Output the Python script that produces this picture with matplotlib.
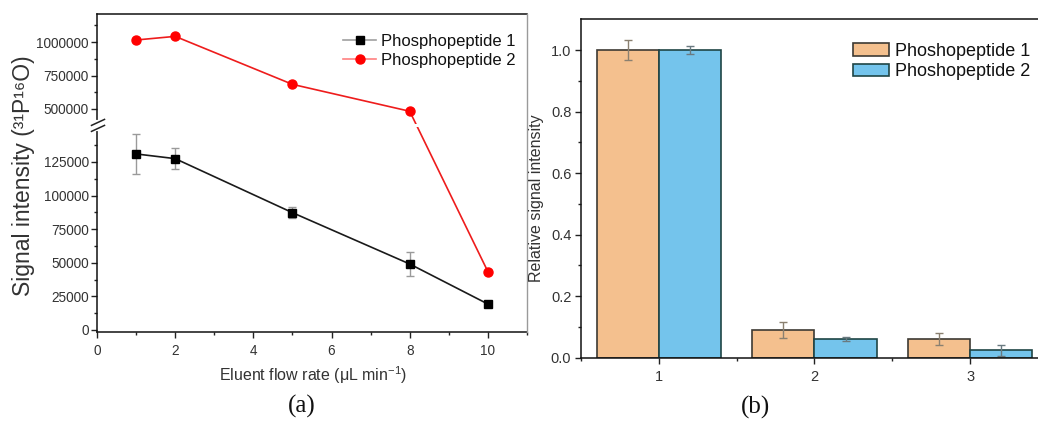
import numpy as np
import matplotlib
matplotlib.use('Agg')
import matplotlib.pyplot as plt
from matplotlib.lines import Line2D
from matplotlib.patches import Patch
from matplotlib.ticker import FixedLocator, FuncFormatter

plt.rcParams['font.family'] = ['Liberation Sans', 'DejaVu Sans']
plt.rcParams['mathtext.fontset'] = 'custom'
plt.rcParams['mathtext.rm'] = 'Liberation Sans'
plt.rcParams['mathtext.it'] = 'Liberation Sans:italic'
plt.rcParams['mathtext.bf'] = 'Liberation Sans:bold'
plt.rcParams['mathtext.default'] = 'regular'

# ---------------- data: panel (a) ----------------
flow_rate = [1, 2, 5, 8, 10]
pep1_signal = [131000, 127500, 87300, 49100, 19300]
pep1_err = [15000, 7800, 4200, 9100, 1200]
pep2_signal = [1015000, 1042000, 684000, 483000, 43400]
yticks_a = [0, 25000, 50000, 75000, 100000, 125000, 500000, 750000, 1000000]
yminor_a = [12500, 37500, 62500, 87500, 112500, 137500, 625000, 875000, 1125000]
xticks_a = [0, 2, 4, 6, 8, 10]
legend_a = ['Phosphopeptide 1', 'Phosphopeptide 2']

# ---------------- data: panel (b) ----------------
groups = ['1', '2', '3']
rel1 = [1.0, 0.089, 0.060]
rel1_err = [0.032, 0.026, 0.019]
rel2 = [1.0, 0.060, 0.024]
rel2_err = [0.013, 0.007, 0.017]
legend_b = ['Phoshopeptide 1', 'Phoshopeptide 2']

W, H = 1038, 423
fig = plt.figure(figsize=(W / 100, H / 100), dpi=100)

TXT = '#333333'

# ---------- broken-axis scale for panel (a) ----------
LOW_TOP = 150000.0
UP_BOT = 400000.0
A = 33.6 / 25000.0
B = 33.5 / 250000.0
GAP = 6.0


def fwd(y):
    y = np.asarray(y, float)
    t1 = LOW_TOP * A
    low = y * A
    mid = t1 + (y - LOW_TOP) * GAP / (UP_BOT - LOW_TOP)
    up = t1 + GAP + (y - UP_BOT) * B
    return np.where(y <= LOW_TOP, low, np.where(y < UP_BOT, mid, up))


def inv(t):
    t = np.asarray(t, float)
    t1 = LOW_TOP * A
    t2 = t1 + GAP
    low = t / A
    mid = LOW_TOP + (t - t1) * (UP_BOT - LOW_TOP) / GAP
    up = UP_BOT + (t - t2) / B
    return np.where(t <= t1, low, np.where(t < t2, mid, up))


def px_rect(x0, y0, x1, y1):
    return [x0 / W, 1 - y1 / H, (x1 - x0) / W, (y1 - y0) / H]


ax = fig.add_axes(px_rect(97, 14, 527, 332))
ax.set_yscale('function', functions=(fwd, inv))
ax.set_xlim(0, 11)
ax.set_ylim(-1500, 1209000)

ax.errorbar(flow_rate, pep1_signal, yerr=pep1_err, color='#1a1a1a', lw=1.2,
            marker='s', ms=5.5, mfc='black', mec='black',
            ecolor='#9a9a9a', elinewidth=1, capsize=2.6, capthick=1, zorder=3)
ax.plot(flow_rate, pep2_signal, color='#ee1c1c', lw=1.2, marker='o', ms=6.5,
        mfc='#ff0000', mec='#ff0000', zorder=3)

# white gap in data lines at the break
ax.axhspan(LOW_TOP + (UP_BOT - LOW_TOP) * 0.2, LOW_TOP + (UP_BOT - LOW_TOP) * 0.8,
           color='white', zorder=3.5, lw=0)

ax.yaxis.set_major_locator(FixedLocator(yticks_a))
ax.yaxis.set_minor_locator(FixedLocator(yminor_a))
ax.yaxis.set_major_formatter(FuncFormatter(lambda v, p: f'{int(round(v))}'))
ax.set_xticks(xticks_a)
ax.set_xticks(np.arange(1, 12, 2), minor=True)
ax.tick_params(which='both', direction='out', colors='#222222', labelcolor=TXT,
               labelsize=9.8, width=1)
ax.tick_params(which='major', length=4.5, pad=1.5)
ax.tick_params(which='minor', length=2.5)
ax.tick_params(axis='x', which='major', pad=4)
ax.spines['right'].set_color('#9a9a9a')
ax.spines['right'].set_linewidth(1)
for s in ['left', 'bottom', 'top']:
    ax.spines[s].set_linewidth(1.1)
    ax.spines[s].set_color('#111111')
ax.spines['right'].set_zorder(4)
ax.spines['left'].set_zorder(4)

ax.set_ylabel('Signal intensity (³¹P¹⁶O)', fontsize=16.5, color=TXT)
ax.yaxis.set_label_coords(-0.144, 0.49)
ax.set_xlabel('Eluent flow rate (μL min$^{-1}$)', fontsize=11.5, color=TXT)
ax.xaxis.set_label_coords(0.502, -0.102)

h1 = Line2D([], [], color='#a0a0a0', lw=1.2, marker='s', ms=5.5, mfc='black', mec='black')
h2 = Line2D([], [], color='#ff8080', lw=1.2, marker='o', ms=6.5, mfc='#ff0000', mec='#ff0000')
fig.legend([h1, h2], legend_a, loc='upper left', bbox_to_anchor=(343 / W, 1 - 34 / H),
           bbox_transform=fig.transFigure, frameon=False, fontsize=12,
           handlelength=2.0, handletextpad=0.3, labelspacing=0.26,
           borderpad=0, borderaxespad=0, labelcolor='#111111')

# break marks on the left spine
fig.canvas.draw()
ymid = 0.5 * (LOW_TOP + UP_BOT)
_, yc = ax.transData.transform((0, ymid))
xc, _ = ax.transAxes.transform((0, 0))
to_fig = fig.transFigure.inverted()


def fig_line(xs, ys, **kw):
    pts = to_fig.transform(np.column_stack([xs, ys]))
    fig.add_artist(Line2D(pts[:, 0], pts[:, 1], **kw))


fig_line([xc, xc], [yc - 3.2, yc + 3.2], color='white', lw=3, zorder=10)
for off in (3.0, -3.0):
    fig_line([xc - 5.5, xc + 7.5], [yc + off - 3.0, yc + off + 3.0],
             color='#222222', lw=1.1, zorder=11)

# ---------------- panel (b) ----------------
ax2 = fig.add_axes(px_rect(581, 19.3, 1048, 357.7))
x = np.arange(1, len(groups) + 1)
bw = 0.4
ax2.bar(x - bw / 2, rel1, bw, color='#f4c08e', edgecolor='#3d3a33', lw=1.2,
        yerr=rel1_err, capsize=3, error_kw=dict(ecolor='#8a8070', elinewidth=1, capthick=1),
        label=legend_b[0], zorder=2)
ax2.bar(x + bw / 2, rel2, bw, color='#74c4ec', edgecolor='#1f4545', lw=1.2,
        yerr=rel2_err, capsize=3, error_kw=dict(ecolor='#6a7a80', elinewidth=1, capthick=1),
        label=legend_b[1], zorder=2)
ax2.set_xlim(0.5, 3.5)
ax2.set_ylim(0, 1.1)
ax2.set_xticks(x)
ax2.set_xticklabels(groups)
ax2.set_xticks(np.arange(0.5, 3.6, 1), minor=True)
ax2.set_yticks(np.arange(0, 1.01, 0.2))
ax2.set_yticklabels([f'{v:.1f}' for v in np.arange(0, 1.01, 0.2)])
ax2.set_yticks(np.arange(0.1, 1.1, 0.2), minor=True)
ax2.tick_params(which='both', direction='out', colors='#222222', labelcolor=TXT,
                labelsize=10.5, width=1)
ax2.tick_params(which='major', length=4.5, pad=2.5)
ax2.tick_params(which='minor', length=2.5)
ax2.tick_params(axis='x', which='major', pad=4)
for s in ['left', 'bottom', 'top', 'right']:
    ax2.spines[s].set_linewidth(1.1)
    ax2.spines[s].set_color('#111111')
ax2.set_ylabel('Relative signal intensity', fontsize=11.5, color=TXT)
ax2.yaxis.set_label_coords(-0.080, 0.47)

p1 = Patch(facecolor='#f4c08e', edgecolor='#3d3a33', lw=1.2)
p2 = Patch(facecolor='#74c4ec', edgecolor='#1f4545', lw=1.2)
fig.legend([p1, p2], legend_b, loc='upper left', bbox_to_anchor=(853 / W, 1 - 43 / H),
           bbox_transform=fig.transFigure, frameon=False, fontsize=13,
           handlelength=2.0, handleheight=0.72, handletextpad=0.35, labelspacing=0.18,
           borderpad=0, borderaxespad=0, labelcolor='#111111')

fig.text(302 / W, 1 - 406 / H, '(a)', family='Liberation Serif', fontsize=18,
         ha='center', va='center', color='#111111')
fig.text(755 / W, 1 - 407 / H, '(b)', family='Liberation Serif', fontsize=18,
         ha='center', va='center', color='#111111')

fig.savefig('out.png', dpi=100)
